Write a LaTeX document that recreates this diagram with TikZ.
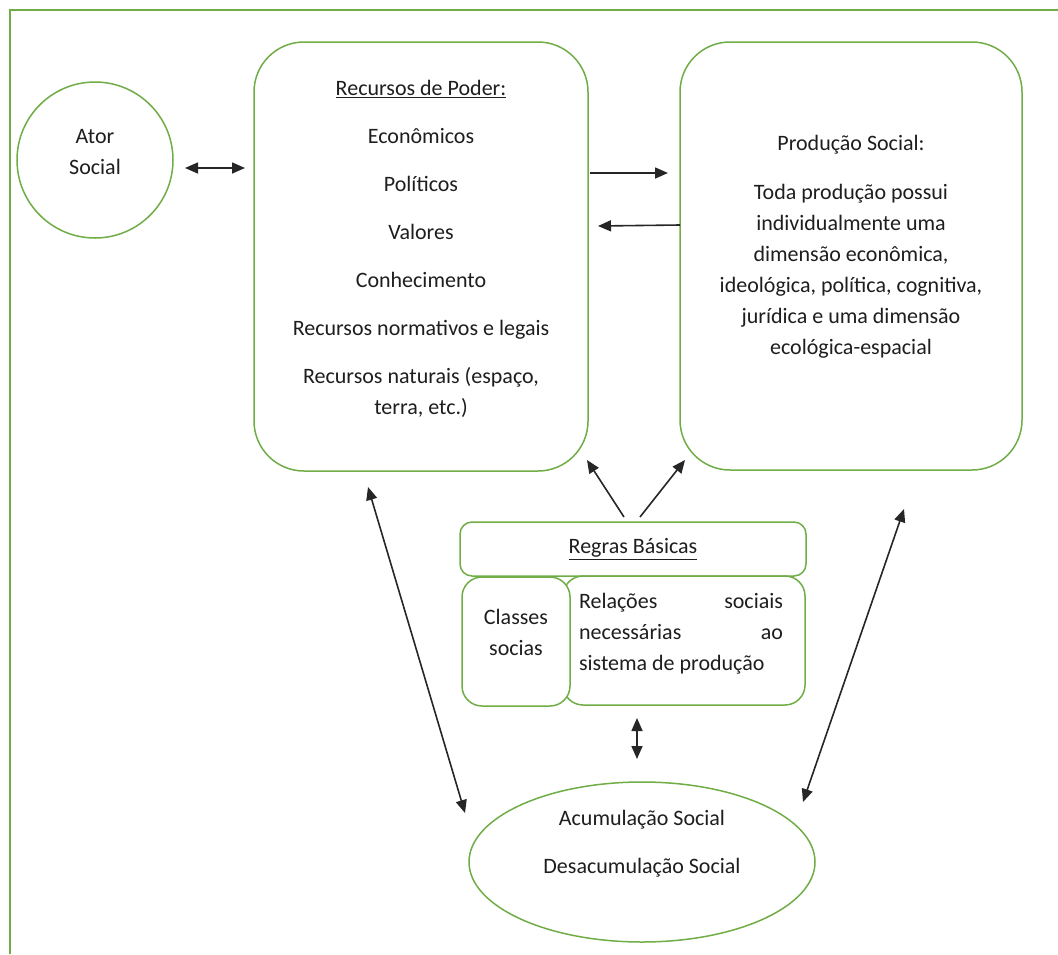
\documentclass[tikz,border=0pt]{standalone}
\usepackage{fontspec}
\setmainfont{Carlito}
\usetikzlibrary{arrows.meta,shapes.geometric}
\definecolor{ogreen}{HTML}{70AD47}
\definecolor{txt}{HTML}{1E1E1E}
\begin{document}
\begin{tikzpicture}[x=1pt,y=-1pt,
  gbox/.style={draw=ogreen,line width=1.5pt,fill=white,inner sep=0pt},
  lbl/.style={text=txt,font=\fontsize{22}{31}\selectfont,align=center,inner sep=0pt},
  tip/.tip={Triangle[length=13pt,width=11pt]},
  conn/.style={draw=black!85,line width=1.6pt,-tip},
  dconn/.style={draw=black!85,line width=1.6pt,tip-tip}]
\useasboundingbox (0,0) rectangle (1058,954);
% frame
\coordinate (fa) at (10,954);
\coordinate (fb) at (10,10);
\coordinate (fc) at (1058,10);
\draw[ogreen,line width=1.5pt] (fa) -- (fb) -- (fc);
% Ator social
\node[gbox,circle,minimum size=156pt] (ator) at (95,160) {};
\node[lbl] (atortxt) at (95,152) {Ator\\Social};
% Recursos de Poder
\node[gbox,rectangle,rounded corners=50pt,minimum width=334pt,minimum height=429pt] (rec) at (421,256.5) {};
\node[lbl] (rectxt) at (421,249) {\underline{Recursos de Poder:}\\[17pt]Econômicos\\[17pt]Políticos\\[17pt]Valores\\[17pt]Conhecimento\\[17pt]Recursos normativos e legais\\[17pt]Recursos naturais (espaço,\\terra, etc.)};
% Producao social
\node[gbox,rectangle,rounded corners=50pt,minimum width=342pt,minimum height=428pt] (prod) at (851,256) {};
\node[lbl] (prodtxt) at (851,247) {Produção Social:\\[18pt]Toda produção possui\\individualmente uma\\dimensão econômica,\\ideológica, política, cognitiva,\\jurídica e uma dimensão\\ecológica-espacial};
% Regras basicas
\node[gbox,rectangle,rounded corners=12pt,minimum width=346pt,minimum height=54pt] (regras) at (633,549) {};
\node[lbl] (regrastxt) at (633,549) {\underline{Regras Básicas}};
\node[gbox,rectangle,rounded corners=20pt,minimum width=242pt,minimum height=129pt] (rel) at (684,640.5) {};
\node[gbox,rectangle,rounded corners=20pt,minimum width=108pt,minimum height=129pt] (classes) at (516,641.5) {};
\node[lbl] (classestxt) at (516,632) {Classes\\socias};
\node[lbl,align=left] (reltxt) at (681,634) {\hbox to 204pt{Relações\hfill sociais}\\\hbox to 204pt{necessárias\hfill ao}\\\hbox to 204pt{sistema de produção\hfill}};
% Acumulacao
\node[gbox,ellipse,minimum width=346pt,minimum height=160pt] (acum) at (642,862) {};
\node[lbl] (acumtxt) at (642,844) {Acumulação Social\\[17pt]Desacumulação Social};
% connectors
\coordinate (a1) at (185,168);
\coordinate (a2) at (245,168);
\draw[dconn] (a1) -- (a2);
\coordinate (b1) at (590,173);
\coordinate (b2) at (668,173);
\draw[conn] (b1) -- (b2);
\coordinate (c1) at (680,225);
\coordinate (c2) at (598,226);
\draw[conn] (c1) -- (c2);
\coordinate (d1) at (624,517);
\coordinate (d2) at (587,460);
\draw[conn] (d1) -- (d2);
\coordinate (e1) at (640,517);
\coordinate (e2) at (685,460);
\draw[conn] (e1) -- (e2);
\coordinate (f1) at (637,718);
\coordinate (f2) at (637,759);
\draw[dconn] (f1) -- (f2);
\coordinate (g1) at (368,487);
\coordinate (g2) at (465,813);
\draw[dconn] (g1) -- (g2);
\coordinate (h1) at (904,509);
\coordinate (h2) at (803,802);
\draw[dconn] (h1) -- (h2);
\end{tikzpicture}
\end{document}
